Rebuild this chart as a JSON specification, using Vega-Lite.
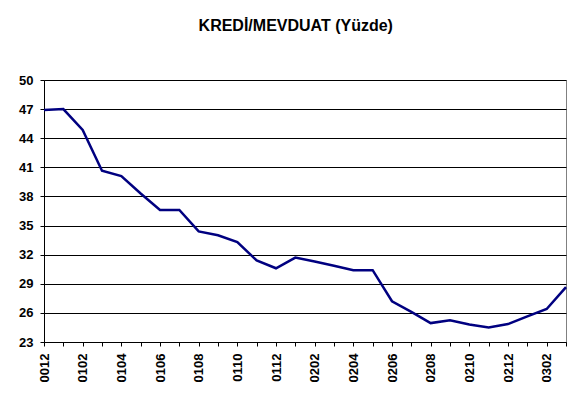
{
  "$schema": "https://vega.github.io/schema/vega-lite/v6.json",
  "width": 522,
  "height": 262,
  "autosize": {"type": "none"},
  "padding": {"left": 44, "top": 80, "right": 18, "bottom": 59},
  "background": "white",
  "title": {
    "text": "KREDİ/MEVDUAT (Yüzde)",
    "font": "Liberation Sans",
    "fontSize": 16,
    "fontWeight": "bold",
    "color": "black",
    "anchor": "middle",
    "frame": "bounds",
    "baseline": "alphabetic",
    "offset": 27
  },
  "data": {
    "values": [
      {"ay": "0012", "oran": 46.9},
      {"ay": "0101", "oran": 47.0},
      {"ay": "0102", "oran": 44.85},
      {"ay": "0103", "oran": 40.65},
      {"ay": "0104", "oran": 40.1},
      {"ay": "0105", "oran": 38.3},
      {"ay": "0106", "oran": 36.6},
      {"ay": "0107", "oran": 36.6},
      {"ay": "0108", "oran": 34.4},
      {"ay": "0109", "oran": 34.0},
      {"ay": "0110", "oran": 33.3},
      {"ay": "0111", "oran": 31.4},
      {"ay": "0112", "oran": 30.6},
      {"ay": "0201", "oran": 31.7},
      {"ay": "0202", "oran": 31.3},
      {"ay": "0203", "oran": 30.85},
      {"ay": "0204", "oran": 30.4},
      {"ay": "0205", "oran": 30.4},
      {"ay": "0206", "oran": 27.2},
      {"ay": "0207", "oran": 26.1},
      {"ay": "0208", "oran": 24.95},
      {"ay": "0209", "oran": 25.25},
      {"ay": "0210", "oran": 24.8},
      {"ay": "0211", "oran": 24.5},
      {"ay": "0212", "oran": 24.85},
      {"ay": "0301", "oran": 25.65},
      {"ay": "0302", "oran": 26.4},
      {"ay": "0303", "oran": 28.65}
    ]
  },
  "mark": {"type": "line", "color": "#000080", "strokeWidth": 2.5},
  "encoding": {
    "x": {
      "field": "ay",
      "type": "ordinal",
      "scale": {"type": "point", "padding": 0},
      "axis": {
        "title": null,
        "labelAngle": -90,
        "labelExpr": "toNumber(substring(datum.value,3,4)) % 2 == 0 ? datum.value : ''",
        "labelFont": "Liberation Sans",
        "labelFontSize": 13,
        "labelFontWeight": "bold",
        "labelColor": "black",
        "labelPadding": 7,
        "tickSize": 4,
        "tickColor": "black",
        "domainColor": "black",
        "grid": false
      }
    },
    "y": {
      "field": "oran",
      "type": "quantitative",
      "scale": {"domain": [23, 50], "nice": false, "zero": false},
      "axis": {
        "title": null,
        "values": [23, 26, 29, 32, 35, 38, 41, 44, 47, 50],
        "labelFont": "Liberation Sans",
        "labelFontSize": 13,
        "labelFontWeight": "bold",
        "labelColor": "black",
        "labelPadding": 7,
        "tickSize": 4,
        "tickColor": "black",
        "domainColor": "black",
        "grid": true,
        "gridColor": "black",
        "gridOpacity": 1,
        "gridWidth": 1
      }
    }
  },
  "config": {
    "view": {"stroke": "#808080", "strokeWidth": 1}
  }
}
